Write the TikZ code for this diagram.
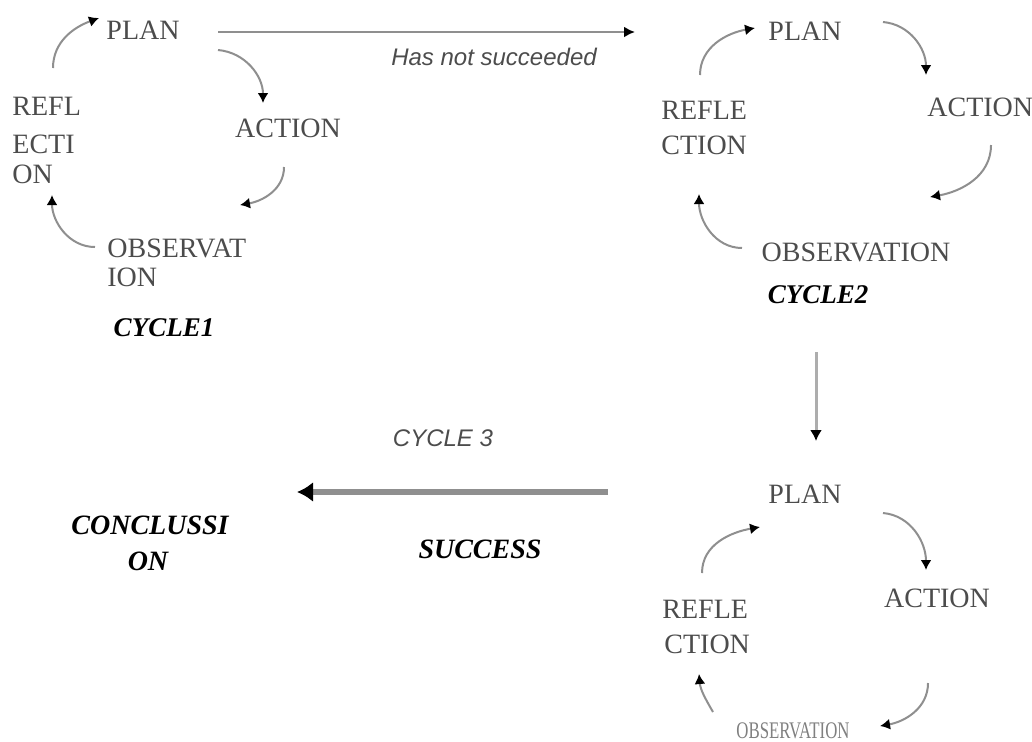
\documentclass[tikz,border=0pt]{standalone}
\usepackage{fontspec}
\setmainfont{Liberation Serif}
\newfontfamily\sansf{Liberation Sans}
\usetikzlibrary{arrows.meta}
\definecolor{txtgray}{rgb}{0.30,0.30,0.30}
\definecolor{lingray}{rgb}{0.56,0.56,0.56}
\definecolor{lightgray2}{rgb}{0.68,0.68,0.68}
\begin{document}
\begin{tikzpicture}[x=0.5pt,y=-0.5pt,
  lbl/.style={inner sep=0pt,text=txtgray,font=\fontsize{14}{16}\selectfont},
  ital/.style={inner sep=0pt,text=black,font=\fontsize{14}{16}\selectfont\bfseries\itshape},
  sital/.style={inner sep=0pt,text=txtgray,font=\fontsize{12}{14}\selectfont\sansf\itshape},
  cyc/.style={draw=lingray,line width=1pt,-{Latex[length=5pt,width=5.5pt,color=black]}},
  longarrow/.style={draw=lingray,line width=1.2pt,-{Latex[length=5.5pt,width=5.5pt,color=black]}},
  downarrow/.style={draw=lightgray2,line width=1.5pt,-{Latex[length=5.5pt,width=6pt,color=black]}},
  bigarrow/.style={draw=lingray,line width=3pt,-{Latex[length=8pt,width=10pt,color=black]}}
]
\useasboundingbox (0,0) rectangle (1032,741);

% ---------- Cycle 1 ----------
\node[lbl] (p1) at (143,30) {PLAN};
\node[lbl,anchor=west] (r1a) at (12,106) {REFL};
\node[lbl,anchor=west] (r1b) at (12,144) {ECTI};
\node[lbl,anchor=west] (r1c) at (12,174) {ON};
\node[lbl] (a1) at (288,128) {ACTION};
\node[lbl,anchor=west] (o1a) at (107,248) {OBSERVAT};
\node[lbl,anchor=west] (o1b) at (107,277) {ION};
\node[ital,font=\fontsize{13.5}{16}\selectfont\bfseries\itshape] (c1) at (164,328) {CYCLE1};

\coordinate (c1rs) at (53,68);   \coordinate (c1pe) at (99,18);
\coordinate (c1ps) at (218,50);  \coordinate (c1ae) at (263,103);
\coordinate (c1as) at (284,167); \coordinate (c1oe) at (240,205);
\coordinate (c1os) at (95,247);  \coordinate (c1re) at (52,195);
\draw[cyc] (c1rs) to[out=90,in=200] (c1pe);
\draw[cyc] (c1ps) to[out=-5,in=90] (c1ae);
\draw[cyc] (c1as) to[out=270,in=10] (c1oe);
\draw[cyc] (c1os) to[out=180,in=270] (c1re);

% ---------- top arrow ----------
\coordinate (t1) at (218,32);
\coordinate (t2) at (635,32);
\draw[longarrow] (t1) -- (t2);
\node[sital] (hns) at (494,57) {Has not succeeded};

% ---------- Cycle 2 ----------
\node[lbl] (p2) at (805,31) {PLAN};
\node[lbl,anchor=west] (a2) at (927,107) {ACTION};
\node[lbl,anchor=west] (r2a) at (661,110) {REFLE};
\node[lbl,anchor=west] (r2b) at (661,145) {CTION};
\node[lbl] (o2) at (856,252) {OBSERVATION};
\node[ital,font=\fontsize{13.5}{16}\selectfont\bfseries\itshape] (c2) at (818,295) {CYCLE2};

\coordinate (c2rs) at (700,75);  \coordinate (c2pe) at (755,28);
\coordinate (c2ps) at (883,22);  \coordinate (c2ae) at (926,75);
\coordinate (c2as) at (991,145); \coordinate (c2oe) at (930,197);
\coordinate (c2os) at (742,248); \coordinate (c2re) at (699,194);
\draw[cyc] (c2rs) to[out=90,in=190] (c2pe);
\draw[cyc] (c2ps) to[out=-5,in=90] (c2ae);
\draw[cyc] (c2as) to[out=270,in=10] (c2oe);
\draw[cyc] (c2os) to[out=180,in=270] (c2re);

% ---------- vertical arrow ----------
\coordinate (v1) at (816,352);
\coordinate (v2) at (816,441);
\draw[downarrow] (v1) -- (v2);

% ---------- Cycle 3 ----------
\node[lbl] (p3) at (805,494) {PLAN};
\node[lbl] (a3) at (937,598) {ACTION};
\node[lbl,anchor=west] (r3a) at (662,609) {REFLE};
\node[lbl,anchor=west] (r3b) at (664,644) {CTION};
\node[lbl,text=gray,xscale=0.6,yscale=0.85] (o3) at (793,731) {OBSERVATION};

\coordinate (c3rs) at (702,573); \coordinate (c3pe) at (760,527);
\coordinate (c3ps) at (883,513); \coordinate (c3ae) at (926,570);
\coordinate (c3as) at (928,683); \coordinate (c3oe) at (880,726);
\coordinate (c3os) at (713,712); \coordinate (c3re) at (699,674);
\draw[cyc] (c3rs) to[out=90,in=190] (c3pe);
\draw[cyc] (c3ps) to[out=-5,in=90] (c3ae);
\draw[cyc] (c3as) to[out=270,in=10] (c3oe);
\draw[cyc] (c3os) to[out=120,in=275] (c3re);

% ---------- left arrow to conclusion ----------
\coordinate (l1) at (608,492);
\coordinate (l2) at (297,492);
\draw[bigarrow] (l1) -- (l2);
\node[sital] (cy3) at (443,438) {CYCLE 3};
\node[ital] (suc) at (480,549) {SUCCESS};
\node[ital] (con1) at (150,525) {CONCLUSSI};
\node[ital] (con2) at (148,561) {ON};
\end{tikzpicture}
\end{document}
